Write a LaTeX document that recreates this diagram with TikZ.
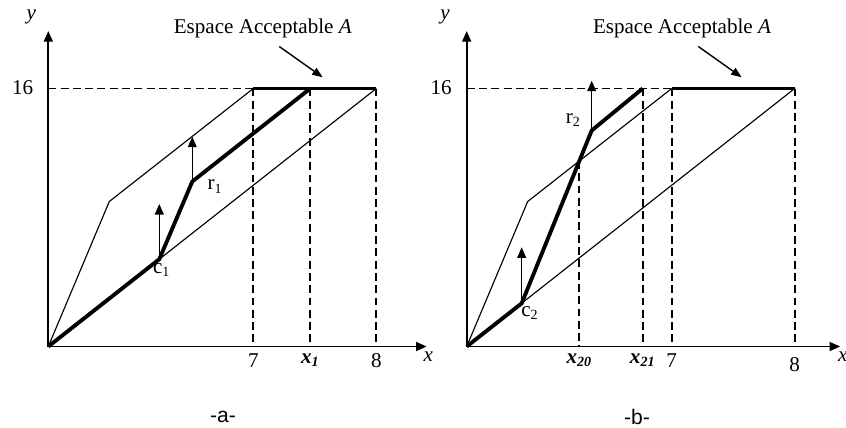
\documentclass[tikz,border=0pt]{standalone}
\usepackage{fontspec}
\setmainfont{Liberation Serif}
\setsansfont{Liberation Sans}
\usepackage{tikz}
\usetikzlibrary{positioning, arrows.meta, calc}

\begin{document}
\begin{tikzpicture}[
        x = 0.02cm, y = 0.02cm,
        axis/.style = {-{Triangle[length=6pt, width=5pt]}, line width=1.1pt},
        border/.style = {line width=0.65pt},
        route/.style = {line width=2.2pt},
        guide/.style = {dash pattern=on 4.5pt off 2.5pt, line width=1pt},
        lift/.style = {-{Triangle[length=6pt, width=5pt]}, line width=0.8pt},
        note/.style = {-{Triangle[length=6pt, width=4.5pt]}, line width=0.8pt},
        lbl/.style = {font=\fontsize{12}{14}\selectfont, inner sep=1pt},
        tick/.style = {lbl, below, inner sep=4pt},
        caption/.style = {font=\sffamily\fontsize{12}{14}\selectfont, inner sep=1pt}
      ]
      \useasboundingbox (0,0) rectangle (846,427);

      % ================= PANEL -a- =================
      \begin{scope}[shift={(48.3,80.5)}]
        \coordinate (a-o) at (0,0);
        \coordinate (a-xend) at (378.4,0);
        \coordinate (a-yend) at (0,315.5);
        \coordinate (a-y16) at (0,258);
        \coordinate (a-k) at (61,145);
        \coordinate (a-t7) at (205,258);
        \coordinate (a-t8) at (328,258);
        \coordinate (a-c) at (111,87.3);
        \coordinate (a-r) at (144,165);
        \coordinate (a-x) at (262,258);
        \coordinate (a-cup) at (111,142.5);
        \coordinate (a-rup) at (144,209.8);
        \coordinate (a-tail) at (231,300);
        \coordinate (a-tip) at (274.4,269.2);

        % pointilles
        \draw[guide] (a-y16) -- (a-t8);
        \draw[guide] (a-t7) -- (a-t7 |- a-o);
        \draw[guide] (a-x) -- (a-x |- a-o);
        \draw[guide] (a-t8) -- (a-t8 |- a-o);

        % bornes de l'espace
        \draw[border] (a-o) -- (a-k) -- (a-t7);
        \draw[border] (a-o) -- (a-t8);

        % trajectoire
        \draw[route] (a-o) -- (a-c) -- (a-r) -- (a-x);
        \draw[route] (a-t7) -- (a-t8);
        \draw[lift] (a-c) -- (a-cup);
        \draw[lift] (a-r) -- (a-rup);

        % axes
        \draw[axis] (a-o) -- (a-xend);
        \draw[axis] (a-o) -- (a-yend);

        % textes
        \node[lbl] (a-ylbl) at (-17,330) {\textit{y}};
        \node[lbl] (a-xlbl) at (380,-10.5) {\textit{x}};
        \node[lbl, anchor=east] (a-16) at (-13,259) {16};
        \node[tick] (a-7lbl) at (a-t7 |- a-o) {7};
        \node[tick] (a-x1lbl) at (a-x |- a-o) {\textbf{\textit{x}}\textsubscript{\textbf{\textit{1}}}};
        \node[tick] (a-8lbl) at (a-t8 |- a-o) {8};
        \node[lbl] (a-clbl) at (113.4,76.5) {c\textsubscript{1}};
        \node[lbl] (a-rlbl) at (166.7,160) {r\textsubscript{1}};
        \node[lbl] (a-esp) at (214.5,318.3) {Espace Acceptable \textit{A}};
        \draw[note] (a-tail) -- (a-tip);
      \end{scope}
      \node[caption] (a-cap) at (223,10) {-a-};

      % ================= PANEL -b- =================
      \begin{scope}[shift={(466.7,80.5)}]
        \coordinate (b-o) at (0,0);
        \coordinate (b-xend) at (373.5,0);
        \coordinate (b-yend) at (0,315.5);
        \coordinate (b-y16) at (0,258);
        \coordinate (b-k) at (61,145);
        \coordinate (b-t7) at (205,258);
        \coordinate (b-t8) at (328,258);
        \coordinate (b-c) at (55,43.2);
        \coordinate (b-r) at (125,216);
        \coordinate (b-x) at (176,258);
        \coordinate (b-m) at (intersection of b-c--b-r and b-k--b-t7);
        \coordinate (b-cup) at (55,99.2);
        \coordinate (b-rup) at (125,265.8);
        \coordinate (b-tail) at (231.6,300);
        \coordinate (b-tip) at (275,269.2);

        % pointilles
        \draw[guide] (b-y16) -- (b-t8);
        \draw[guide] (b-m) -- (b-m |- b-o);
        \draw[guide] (b-x) -- (b-x |- b-o);
        \draw[guide] (b-t7) -- (b-t7 |- b-o);
        \draw[guide] (b-t8) -- (b-t8 |- b-o);

        % bornes de l'espace
        \draw[border] (b-o) -- (b-k) -- (b-t7);
        \draw[border] (b-o) -- (b-t8);

        % trajectoire
        \draw[route] (b-o) -- (b-c) -- (b-r) -- (b-x);
        \draw[route] (b-t7) -- (b-t8);
        \draw[lift] (b-c) -- (b-cup);
        \draw[lift] (b-r) -- (b-rup);

        % axes
        \draw[axis] (b-o) -- (b-xend);
        \draw[axis] (b-o) -- (b-yend);

        % textes
        \node[lbl] (b-ylbl) at (-21.7,330) {\textit{y}};
        \node[lbl] (b-xlbl) at (376,-10.5) {\textit{x}};
        \node[lbl, anchor=east] (b-16) at (-13,259) {16};
        \node[tick] (b-x20lbl) at (b-m |- b-o) {\textbf{\textit{x}}\textsubscript{\textbf{\textit{20}}}};
        \node[tick] (b-x21lbl) at (b-x |- b-o) {\textbf{\textit{x}}\textsubscript{\textbf{\textit{21}}}};
        \node[tick] (b-7lbl) at (b-t7 |- b-o) {7};
        \node[tick, yshift=-2] (b-8lbl) at (b-t8 |- b-o) {8};
        \node[lbl] (b-clbl) at (63.3,33.2) {c\textsubscript{2}};
        \node[lbl] (b-rlbl) at (106.6,226.5) {r\textsubscript{2}};
        \node[lbl] (b-esp) at (215.3,318.3) {Espace Acceptable \textit{A}};
        \draw[note] (b-tail) -- (b-tip);
      \end{scope}
      \node[caption] (b-cap) at (637,10) {-b-};
\end{tikzpicture}
\end{document}
